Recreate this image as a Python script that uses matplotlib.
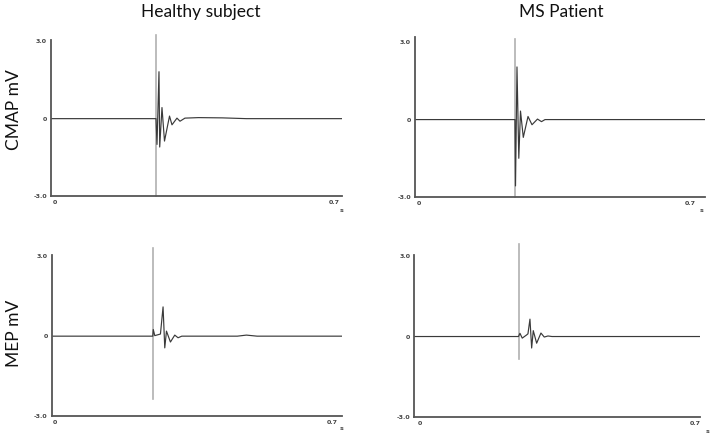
import matplotlib.pyplot as plt

# tempos (s) e amplitudes (mV)
cmap_saudavel_t = [-0.01, 0.2534, 0.2559, 0.2609, 0.2627, 0.2684, 0.2747, 0.2873, 0.2935,
                   0.306, 0.3136, 0.326, 0.36, 0.42, 0.48, 0.72]
cmap_saudavel_mv = [0.0, 0.0, -1.0, 1.82, -1.1, 0.43, -0.87, 0.1, -0.24,
                    0.02, -0.1, 0.02, 0.04, 0.03, 0.0, 0.0]

cmap_em_t = [-0.01, 0.248, 0.2494, 0.2532, 0.2579, 0.2623, 0.2695, 0.2817, 0.292,
             0.3062, 0.3165, 0.3256, 0.739]
cmap_em_mv = [0.0, 0.0, -2.57, 2.04, -1.5, 0.33, -0.69, 0.12, -0.2,
              0.02, -0.08, 0.0, 0.0]

mep_saudavel_t = [-0.008, 0.2469, 0.2481, 0.2519, 0.2662, 0.2728, 0.2771, 0.2814, 0.2914,
                  0.3023, 0.3106, 0.32, 0.46, 0.483, 0.51, 0.724]
mep_saudavel_mv = [0.0, 0.0, 0.25, 0.02, 0.08, 1.1, -0.44, 0.19, -0.22,
                   0.04, -0.06, 0.0, 0.0, 0.04, 0.0, 0.0]

mep_em_t = [-0.0145, 0.25, 0.2538, 0.2596, 0.2708, 0.2741, 0.2792, 0.2835, 0.2876,
            0.2962, 0.3071, 0.3155, 0.3249, 0.335, 0.711]
mep_em_mv = [0.0, 0.0, 0.12, -0.06, 0.06, 0.1, 0.65, -0.43, 0.22,
             -0.25, 0.13, -0.02, 0.02, 0.0, 0.0]

# artefato de estímulo: (tempo, y inicial, y final)
estimulos = [(0.253, -3.0, 3.23), (0.248, -3.0, 3.14), (0.2475, -2.36, 3.3), (0.251, -0.84, 3.47)]

titulos = ['Healthy subject', 'MS Patient']
rotulos_y = ['CMAP mV', 'MEP mV']

W, H = 713, 438
fig = plt.figure(figsize=(W / 100, H / 100), dpi=100)


def caixa(esq, topo, dir, baixo):
    return [esq / W, 1 - baixo / H, (dir - esq) / W, (baixo - topo) / H]


paineis = [
    (caixa(51, 40, 342, 196), (-0.01, 0.72), (-3, 3.05), cmap_saudavel_t, cmap_saudavel_mv, (-1, -15)),
    (caixa(415, 37, 705, 197), (-0.0103, 0.739), (-3, 3.2), cmap_em_t, cmap_em_mv, (-4, -14)),
    (caixa(51.7, 255, 342, 416), (-0.008, 0.724), (-3, 3.05), mep_saudavel_t, mep_saudavel_mv, (0, -12)),
    (caixa(414.3, 255, 700, 416.7), (-0.0145, 0.711), (-3, 3.05), mep_em_t, mep_em_mv, (7, -15)),
]

for i, (pos, xl, yl, t, mv, off_s) in enumerate(paineis):
    ax = fig.add_axes(pos)
    x0, y0, y1 = estimulos[i]
    ax.plot([x0, x0], [y0, y1], color='#b0b0b0', lw=1.2, clip_on=False, zorder=1)
    ax.plot(t, mv, color='#3a3a3a', lw=0.85, zorder=2)
    ax.set_xlim(*xl)
    ax.set_ylim(*yl)
    ax.set_xticks([0, 0.7])
    ax.set_xticklabels(['0', '0.7'])
    ax.set_yticks([3.0, 0, -3.0])
    ax.set_yticklabels(['3.0', '0', '-3.0'])
    ax.tick_params(length=0, labelsize=4.5, colors='#444', pad=3)
    for lbl in ax.get_xticklabels() + ax.get_yticklabels():
        lbl.set_fontweight('bold')
    for lado in ['top', 'right']:
        ax.spines[lado].set_visible(False)
    for lado in ['left', 'bottom']:
        ax.spines[lado].set_color('#555555')
        ax.spines[lado].set_linewidth(1.3)
    ax.patch.set_alpha(0)
    ax.annotate('s', xy=(1, 0), xycoords='axes fraction', xytext=off_s,
                textcoords='offset pixels', fontsize=4.5, color='#444',
                fontweight='bold', ha='center', va='center')

fig.text(201 / W, 1 - 12 / H, titulos[0], fontsize=12.5, family='Lato', ha='center', va='center', color='#111')
fig.text(561 / W, 1 - 12 / H, titulos[1], fontsize=12.5, family='Lato', ha='center', va='center', color='#111')
fig.text(14 / W, 1 - 110 / H, rotulos_y[0], fontsize=12.5, family='Lato', rotation=90, ha='center', va='center', color='#111')
fig.text(14 / W, 1 - 333 / H, rotulos_y[1], fontsize=12.5, family='Lato', rotation=90, ha='center', va='center', color='#111')

fig.savefig('out.png', dpi=100)
